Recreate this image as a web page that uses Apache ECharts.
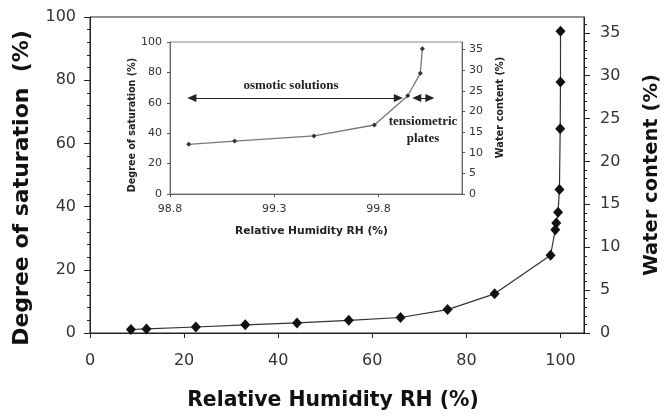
<!DOCTYPE html>
<html>
<head>
<meta charset="utf-8">
<script src="https://cdn.jsdelivr.net/npm/echarts@6/dist/echarts.min.js"></script>
<style>
  html, body { margin: 0; padding: 0; background: #fff; }
  #chart { width: 670px; height: 418px; }
</style>
</head>
<body>
<div id="chart"></div>
<script>
// salt solutions (main chart, low RH)
const saltRH = [8.7, 12, 22.5, 33, 44, 55, 66, 76, 86, 97.9]
const saltSat = [1.1, 1.3, 1.9, 2.6, 3.2, 4.0, 4.9, 7.4, 12.4, 24.6]
// osmotic solutions + tensiometric plates (near saturation, also in the inset)
const fineRH = [98.89, 99.11, 99.49, 99.78, 99.94, 100.0, 100.01]
const fineSat = [32.7, 34.8, 38.2, 45.4, 64.6, 79.4, 95.5]

// tick labels
const mainXTicks = [0, 20, 40, 60, 80, 100]
const waterTicks = [0, 5, 10, 15, 20, 25, 30, 35]
const waterMinorTicks = [1, 2, 3, 4, 6, 7, 8, 9, 11, 12, 13, 14, 16, 17, 18, 19,
  21, 22, 23, 24, 26, 27, 28, 29, 31, 32, 33, 34, 36]
const insetXTicks = [98.8, 99.3, 99.8]

const waterMax = 36.84 // water content at 100 % saturation

const chart = echarts.init(document.getElementById('chart'))

const sans = 'DejaVu Sans'
const mainLabel = { fontFamily: sans, fontSize: 16, color: '#333' }
const mainName = { fontFamily: sans, fontWeight: 'bold', fontSize: 20.4, color: '#111', verticalAlign: 'middle' }
const insetLabel = { fontFamily: sans, fontSize: 11, color: '#333' }
const insetName = { fontFamily: sans, fontWeight: 'bold', fontSize: 9.6, color: '#222', verticalAlign: 'middle' }
const serifNote = { fontFamily: 'Liberation Serif', fontWeight: 'bold', fontSize: 13, color: '#222' }

const mainData = saltRH.concat(fineRH).map((x, i) => [x, saltSat.concat(fineSat)[i]])
const insetData = fineRH.map((x, i) => [x, fineSat[i]])

chart.setOption({
  animation: false,
  backgroundColor: '#fff',
  grid: [
    { left: 90, right: 80, top: 17, bottom: 85, show: true, borderColor: '#222', borderWidth: 1, backgroundColor: 'transparent' },
    { left: 170, right: 208, top: 42, bottom: 224, show: true, borderColor: '#888', borderWidth: 1, backgroundColor: '#fff' }
  ],
  xAxis: [
    {
      type: 'value', gridIndex: 0, min: 0, max: 105, interval: 20,
      axisLine: { lineStyle: { color: '#222', width: 1 } },
      axisTick: { length: 5, lineStyle: { color: '#222' }, customValues: mainXTicks },
      axisLabel: Object.assign({ margin: 20, customValues: mainXTicks }, mainLabel),
      splitLine: { show: false },
      name: 'Relative Humidity RH (%)',
      nameLocation: 'middle', nameGap: 68,
      nameTextStyle: Object.assign({ padding: [0, 8, 0, 0] }, mainName)
    },
    {
      type: 'value', gridIndex: 1, min: 98.8, max: 100.2, interval: 0.5,
      axisLine: { lineStyle: { color: '#666' } },
      axisTick: { length: 3, lineStyle: { color: '#555' }, customValues: insetXTicks },
      axisLabel: Object.assign({ margin: 10, customValues: insetXTicks, formatter: v => v.toFixed(1) }, insetLabel),
      splitLine: { show: false },
      name: 'Relative Humidity RH (%)',
      nameLocation: 'middle', nameGap: 37,
      nameTextStyle: Object.assign({ padding: [0, 9, 0, 0] }, insetName, { fontSize: 10.7 })
    }
  ],
  yAxis: [
    {
      type: 'value', gridIndex: 0, position: 'left', min: 0, max: 100, interval: 20,
      axisLine: { show: true, lineStyle: { color: '#222' } },
      axisTick: { show: true, length: 6, lineStyle: { color: '#222' } },
      minorTick: { show: true, splitNumber: 5, length: 3, lineStyle: { color: '#222' } },
      axisLabel: Object.assign({ margin: 14 }, mainLabel),
      splitLine: { show: false },
      name: 'Degree of saturation  (%)',
      nameLocation: 'middle', nameGap: 68, nameRotate: 90,
      nameTextStyle: Object.assign({ padding: [0, 26, 0, 0] }, mainName, { fontSize: 22 })
    },
    {
      type: 'value', gridIndex: 0, position: 'right', min: 0, max: waterMax, interval: 5,
      axisLine: { show: true, lineStyle: { color: '#222' } },
      axisTick: { show: true, length: 6, lineStyle: { color: '#222' }, customValues: waterTicks },
      axisLabel: Object.assign({ margin: 16, customValues: waterTicks }, mainLabel),
      splitLine: { show: false },
      name: 'Water content (%)',
      nameLocation: 'middle', nameGap: 68, nameRotate: 90,
      nameTextStyle: Object.assign({}, mainName, { fontSize: 19.5 })
    },
    {
      type: 'value', gridIndex: 0, position: 'right', offset: 0, min: 0, max: waterMax,
      axisLine: { show: false },
      axisTick: { show: true, length: 3, lineStyle: { color: '#222' }, customValues: waterMinorTicks },
      axisLabel: { show: false },
      splitLine: { show: false }
    },
    {
      type: 'value', gridIndex: 1, position: 'left', min: 0, max: 100, interval: 20,
      axisLine: { show: true, lineStyle: { color: '#666' } },
      axisTick: { show: true, length: 3, lineStyle: { color: '#555' } },
      axisLabel: Object.assign({ margin: 8 }, insetLabel),
      splitLine: { show: false },
      name: 'Degree of saturation (%)',
      nameLocation: 'middle', nameGap: 37, nameRotate: 90,
      nameTextStyle: Object.assign({ padding: [0, 14, 0, 0] }, insetName)
    },
    {
      type: 'value', gridIndex: 1, position: 'right', min: 0, max: waterMax, interval: 5,
      axisLine: { show: true, lineStyle: { color: '#666' } },
      axisTick: { show: true, length: 3, lineStyle: { color: '#555' }, customValues: waterTicks },
      axisLabel: Object.assign({ margin: 7, customValues: waterTicks }, insetLabel),
      splitLine: { show: false },
      name: 'Water content (%)',
      nameLocation: 'middle', nameGap: 38, nameRotate: 90,
      nameTextStyle: Object.assign({ padding: [0, 0, 0, 21] }, insetName, { fontSize: 9.8 })
    }
  ],
  series: [
    {
      type: 'line', xAxisIndex: 0, yAxisIndex: 0,
      data: mainData,
      symbol: 'diamond', symbolSize: [10, 11],
      itemStyle: { color: '#111' },
      lineStyle: { color: '#333', width: 1.2 },
      z: 3
    },
    {
      type: 'line', xAxisIndex: 1, yAxisIndex: 3,
      data: insetData,
      symbol: 'diamond', symbolSize: 5,
      itemStyle: { color: '#333' },
      lineStyle: { color: '#777', width: 1.3 },
      z: 5,
      markLine: {
        silent: true,
        symbol: ['triangle', 'triangle'],
        symbolSize: [8, 9],
        label: { show: false },
        lineStyle: { color: '#222', width: 1, type: 'solid' },
        data: [
          [{ coord: [98.905, 63.2] }, { coord: [99.895, 63.2] }],
          [{ coord: [99.983, 63.2] }, { coord: [100.046, 63.2] }]
        ]
      },
      markPoint: {
        silent: true,
        symbol: 'circle', symbolSize: 0,
        label: Object.assign({ show: true, position: 'inside' }, serifNote),
        data: [
          { coord: [99.38, 71.6], label: { formatter: 'osmotic solutions' } },
          { coord: [100.013, 41.8], label: { formatter: 'tensiometric\nplates', lineHeight: 17 } }
        ]
      }
    }
  ]
})
</script>
</body>
</html>
